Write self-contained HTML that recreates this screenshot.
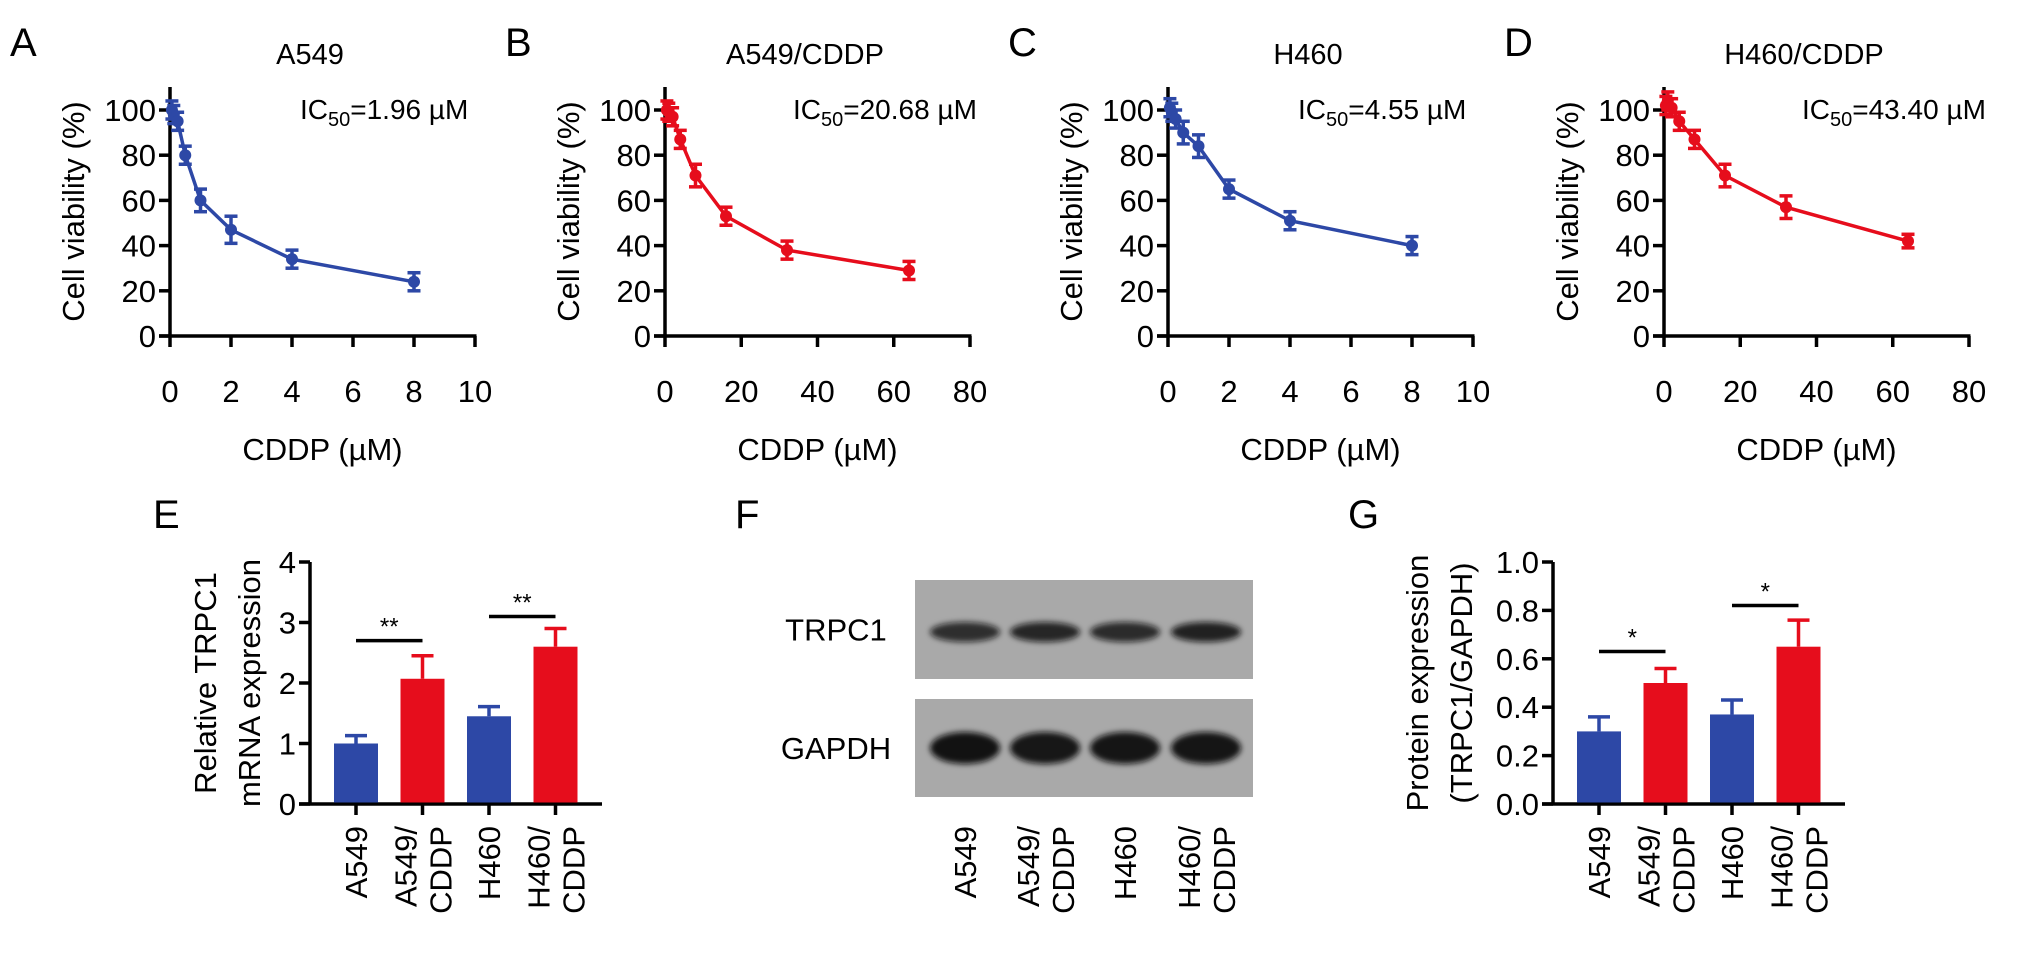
<!DOCTYPE html>
<html><head><meta charset="utf-8">
<style>
html,body{margin:0;padding:0;background:#fff;}
svg{display:block;font-family:"Liberation Sans",Arial,sans-serif;}
</style></head>
<body>
<svg id="fig" width="2032" height="964" viewBox="0 0 2032 964" xmlns="http://www.w3.org/2000/svg">
  <rect width="2032" height="964" fill="#fff"/>
  <g id="layer"></g>
</svg>
<script>
// ---- dose-response data ----
const dosesA = [0.0625, 0.125, 0.25, 0.5, 1, 2, 4, 8];
const viabA = [100, 98, 95, 80, 60, 47, 34, 24];
const errA = [4, 4, 4, 4, 5, 6, 4, 4];
const dosesB = [0.5, 1, 2, 4, 8, 16, 32, 64];
const viabB = [100, 99, 97, 87, 71, 53, 38, 29];
const errB = [4, 4, 4, 4, 5, 4, 4, 4];
const dosesC = [0.0625, 0.125, 0.25, 0.5, 1, 2, 4, 8];
const viabC = [101, 99, 96, 90, 84, 65, 51, 40];
const errC = [4, 4, 4, 5, 5, 4, 4, 4];
const dosesD = [0.5, 1, 2, 4, 8, 16, 32, 64];
const viabD = [102, 104, 101, 95, 87, 71, 57, 42];
const errD = [4, 4, 4, 4, 4, 5, 5, 3];
const xTicksSmall = [0, 2, 4, 6, 8, 10];
const xTicksLarge = [0, 20, 40, 60, 80];
const yTicksViab = [0, 20, 40, 60, 80, 100];
// ---- bar data ----
const barCats = ["A549", "A549/CDDP", "H460", "H460/CDDP"];
const mrnaVals = [1.0, 2.07, 1.45, 2.6];
const mrnaErr = [0.13, 0.38, 0.16, 0.3];
const mrnaTicks = [0, 1, 2, 3, 4];
const protVals = [0.30, 0.50, 0.37, 0.65];
const protErr = [0.06, 0.06, 0.06, 0.11];
const protTicks = ["0.0", "0.2", "0.4", "0.6", "0.8", "1.0"];

const BLUE = "#2d48a6", RED = "#e60d1c";
const FS = 31;
const NS = "http://www.w3.org/2000/svg";
const layer = document.getElementById("layer");
function mk(tag, attrs, parent) {
  const e = document.createElementNS(NS, tag);
  for (const k in attrs) e.setAttribute(k, attrs[k]);
  (parent || layer).appendChild(e);
  return e;
}
function txt(s, attrs, parent) { const t = mk("text", attrs, parent); t.textContent = s; return t; }

function linePanel(cfg) {
  const g = mk("g", {});
  
  
  const x0 = cfg.x0, w = 305, yb = 336, yt = 110;
  const sx = v => x0 + v / cfg.xmax * w;
  const sy = v => yb - v / 100 * (yb - yt);
  const letter = txt(cfg.letter, {x: cfg.x0 - 160, y: 56, "font-size": 40}, g);
  
  
  const title = txt(cfg.title, {x: x0 + 140, y: 64, "font-size": 29, "text-anchor": "middle"}, g);
  
  
  const ic = txt("", {x: x0 + cfg.icx, y: 119, "font-size": 28}, g);
  
  
  const t1 = mk("tspan", {}, ic); t1.textContent = "IC";
  const t2 = mk("tspan", {"font-size": 20, dy: 7}, ic); t2.textContent = "50";
  const t3 = mk("tspan", {dy: -7}, ic); t3.textContent = "=" + cfg.ic + " \u00b5M";
  const ya = mk("line", {x1: x0, y1: 87, x2: x0, y2: yb, stroke: "#000", "stroke-width": 3.5}, g);
  
  
  const xa = mk("line", {x1: x0 - 11, y1: yb, x2: x0 + w + 1.5, y2: yb, stroke: "#000", "stroke-width": 3.5}, g);
  
  
  yTicksViab.forEach(v => {
    mk("line", {x1: x0 - 11, y1: sy(v), x2: x0, y2: sy(v), stroke: "#000", "stroke-width": 3.5}, g);
    const l = txt(String(v), {x: x0 - 14, y: sy(v) + 11, "font-size": FS, "text-anchor": "end"}, g);
    
    
  });
  cfg.xticks.forEach(v => {
    mk("line", {x1: sx(v), y1: yb, x2: sx(v), y2: yb + 11, stroke: "#000", "stroke-width": 3.5}, g);
    const l = txt(String(v), {x: sx(v), y: 402, "font-size": FS, "text-anchor": "middle"}, g);
    
    
  });
  const xt = txt("CDDP (\u00b5M)", {x: x0 + w / 2, y: 460, "font-size": FS, "text-anchor": "middle"}, g);
  
  
  const yl = txt("Cell viability (%)", {x: 0, y: 0, "font-size": FS, "text-anchor": "middle", transform: `translate(${x0 - 86},${(87 + yb) / 2}) rotate(-90)`}, g);
  
  
  const pts = cfg.doses.map((d, i) => sx(d).toFixed(1) + "," + sy(cfg.vals[i]).toFixed(1)).join(" ");
  const pl = mk("polyline", {points: pts, fill: "none", stroke: cfg.color, "stroke-width": 3.5}, g);
  
  
  cfg.doses.forEach((d, i) => {
    const cx = sx(d), cy = sy(cfg.vals[i]), e = cfg.err[i];
    const pg = mk("g", {stroke: cfg.color, "stroke-width": 3.5}, g);
    
    
    mk("line", {x1: cx, y1: sy(cfg.vals[i] + e), x2: cx, y2: sy(cfg.vals[i] - e)}, pg);
    mk("line", {x1: cx - 6.5, y1: sy(cfg.vals[i] + e), x2: cx + 6.5, y2: sy(cfg.vals[i] + e)}, pg);
    mk("line", {x1: cx - 6.5, y1: sy(cfg.vals[i] - e), x2: cx + 6.5, y2: sy(cfg.vals[i] - e)}, pg);
    mk("circle", {cx: cx, cy: cy, r: 6, fill: cfg.color, stroke: "none"}, pg);
  });
}
linePanel({name: "panel-a-a549", letter: "A", title: "A549", x0: 170, xmax: 10, xticks: xTicksSmall, doses: dosesA, vals: viabA, err: errA, color: BLUE, ic: "1.96", icx: 130});
linePanel({name: "panel-b-a549-cddp", letter: "B", title: "A549/CDDP", x0: 665, xmax: 80, xticks: xTicksLarge, doses: dosesB, vals: viabB, err: errB, color: RED, ic: "20.68", icx: 128});
linePanel({name: "panel-c-h460", letter: "C", title: "H460", x0: 1168, xmax: 10, xticks: xTicksSmall, doses: dosesC, vals: viabC, err: errC, color: BLUE, ic: "4.55", icx: 130});
linePanel({name: "panel-d-h460-cddp", letter: "D", title: "H460/CDDP", x0: 1664, xmax: 80, xticks: xTicksLarge, doses: dosesD, vals: viabD, err: errD, color: RED, ic: "43.40", icx: 138});

function catLabel(g, cx, top, name) {
  const parts = name.includes("/") ? [name.split("/")[0] + "/", name.split("/")[1]] : [name];
  parts.forEach((p, j) => {
    const off = parts.length === 1 ? 0 : (j === 0 ? -17 : 18);
    const t = txt(p, {x: 0, y: 0, "font-size": FS, "text-anchor": "end", transform: `translate(${cx + off + 11},${top}) rotate(-90)`}, g);
    
    
  });
}

function barPanel(cfg) {
  const g = mk("g", {});
  
  
  const x0 = cfg.x0, yb = 804, yt = 562;
  const sy = v => yb - v / cfg.ymax * (yb - yt);
  const bx = i => x0 + 46 + i * 66.5;
  const letter = txt(cfg.letter, {x: cfg.lx, y: 528, "font-size": 40}, g);
  
  
  const ya = mk("line", {x1: x0, y1: yt, x2: x0, y2: yb, stroke: "#000", "stroke-width": 3.5}, g);
  
  
  const xa = mk("line", {x1: x0 - 11, y1: yb, x2: x0 + 292, y2: yb, stroke: "#000", "stroke-width": 3.5}, g);
  
  
  cfg.ticks.forEach(s => {
    const v = parseFloat(s);
    mk("line", {x1: x0 - 11, y1: sy(v), x2: x0, y2: sy(v), stroke: "#000", "stroke-width": 3.5}, g);
    const l = txt(s, {x: x0 - 14, y: sy(v) + 11, "font-size": FS, "text-anchor": "end"}, g);
    
    
  });
  cfg.ylab.forEach((s, j) => {
    const l = txt(s, {x: 0, y: 0, "font-size": FS, "text-anchor": "middle", transform: `translate(${cfg.ylx + j * 44},${(yt + yb) / 2}) rotate(-90)`}, g);
    
    
  });
  cfg.vals.forEach((v, i) => {
    const c = i % 2 ? RED : BLUE, cx = bx(i);
    const e = cfg.err[i];
    const eb = mk("g", {stroke: c, "stroke-width": 3.5}, g);
    
    
    mk("line", {x1: cx, y1: sy(v), x2: cx, y2: sy(v + e)}, eb);
    mk("line", {x1: cx - 11, y1: sy(v + e), x2: cx + 11, y2: sy(v + e)}, eb);
    const r = mk("rect", {x: cx - 22, y: sy(v), width: 44, height: yb - sy(v) - 1.5, fill: c}, g);
    
    
    mk("line", {x1: cx, y1: yb, x2: cx, y2: yb + 11, stroke: "#000", "stroke-width": 3.5}, g);
    catLabel(g, cx, 826, barCats[i]);
  });
  cfg.sig.forEach((s, k) => {
    const a = bx(k * 2), b = bx(k * 2 + 1), y = sy(s);
    const sl = mk("line", {x1: a, y1: y, x2: b, y2: y, stroke: "#000", "stroke-width": 3.5}, g);
    
    
    const st = txt(cfg.star, {x: (a + b) / 2, y: y - 6, "font-size": 24, "text-anchor": "middle"}, g);
    
    
  });
}
const mrnaSig = [2.7, 3.1];
const protSig = [0.63, 0.82];
barPanel({name: "panel-e-mrna", letter: "E", lx: 153, x0: 310, ymax: 4, ticks: mrnaTicks.map(String), vals: mrnaVals, err: mrnaErr, sig: mrnaSig, star: "**", ylab: ["Relative TRPC1", "mRNA expression"], ylx: 216});
barPanel({name: "panel-g-protein", letter: "G", lx: 1348, x0: 1553, ymax: 1, ticks: protTicks, vals: protVals, err: protErr, sig: protSig, star: "*", ylab: ["Protein expression", "(TRPC1/GAPDH)"], ylx: 1428});

// ---- western blot (F) ----
const laneNames = ["A549", "A549/CDDP", "H460", "H460/CDDP"];
const trpc1Intensity = [0.8, 0.85, 0.82, 0.88];
const gapdhIntensity = [0.97, 0.94, 0.95, 0.95];
(function () {
  const g = mk("g", {});
  
  
  const defs = mk("defs", {}, g);
  const f = mk("filter", {id: "blur", x: "-20%", y: "-60%", width: "140%", height: "220%"}, defs);
  mk("feGaussianBlur", {stdDeviation: 3}, f);
  const letter = txt("F", {x: 735, y: 528, "font-size": 40}, g);
  
  
  const rows = [{name: "TRPC1", y: 580, h: 99, by: 632, bh: 16, vals: trpc1Intensity},
                {name: "GAPDH", y: 699, h: 98, by: 748, bh: 28, vals: gapdhIntensity}];
  const lanes = [965, 1045, 1125, 1206];
  rows.forEach(r => {
    const box = mk("rect", {x: 915, y: r.y, width: 338, height: r.h, fill: "#a9a9a9"}, g);
    
    
    const l = txt(r.name, {x: 836, y: r.y + r.h / 2 + 11, "font-size": FS, "text-anchor": "middle"}, g);
    
    
    r.vals.forEach((v, i) => {
      const b = mk("ellipse", {cx: lanes[i], cy: r.by, rx: 35, ry: r.bh / 2 + 2, fill: "#111", "fill-opacity": v, filter: "url(#blur)"}, g);
      
      
    });
  });
  laneNames.forEach((n, i) => catLabel(g, lanes[i], 826, n));
})();
</script>
</body></html>
